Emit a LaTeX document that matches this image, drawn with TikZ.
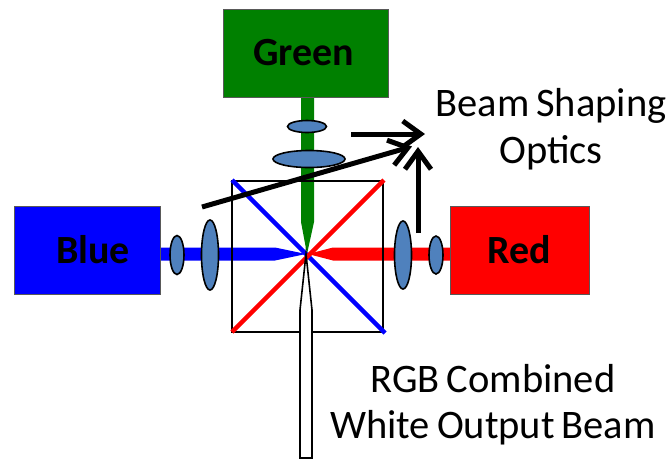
\documentclass[tikz,border=0pt]{standalone}
\usepackage{fontspec}
\setmainfont{Carlito}
\usetikzlibrary{arrows.meta}
\definecolor{lensblue}{HTML}{4F81BD}
\definecolor{gbox}{HTML}{008000}
\newcommand{\wsp}{\hspace{7pt}}
\tikzset{
  srcbox/.style={draw=black!65,line width=1pt,inner sep=0pt,font=\fontsize{40}{40}\selectfont\bfseries},
  lens/.style={draw=black,fill=lensblue,line width=1.6pt},
  diag/.style={line width=4.5pt},
  callout/.style={draw=black,line width=5pt,-{Straight Barb[length=18pt,width=26pt,line width=5pt]}},
  lbl/.style={font=\fontsize{40.5}{40.5}\selectfont,inner sep=0pt,anchor=base},
}
\begin{document}
\begin{tikzpicture}[x=1pt,y=-1pt]
\useasboundingbox (0,0) rectangle (672,459);
% beams
\fill[gbox] (301,97) -- (314,97) -- (314,222) -- (307,254) -- (301,222) -- cycle;
\fill[blue] (160,247.5) -- (275,247.5) -- (306,254) -- (275,260.5) -- (160,260.5) -- cycle;
\fill[red] (450,247.5) -- (333,247.5) -- (308,254) -- (333,260.5) -- (450,260.5) -- cycle;
% cube
\node[draw=black,line width=1.2pt,minimum width=151pt,minimum height=151pt,inner sep=0pt] (cube) at (307.5,256.5) {};
\draw[blue,diag] (232,180) -- (385,333);
\draw[red,diag] (384,180) -- (232,332);
% output
\draw[black,line width=1.6pt,fill=white] (300,458) -- (300,310) -- (306,254) -- (312,310) -- (312,458) -- cycle;
% sources
\node[srcbox,fill=gbox,minimum width=165pt,minimum height=88pt] (green) at (305.5,53) {\raisebox{-1pt}{\hspace*{-3pt}Green}};
\node[srcbox,fill=blue,minimum width=146pt,minimum height=88pt] (bluebox) at (87,250) {\raisebox{-1pt}{\hspace*{12pt}Blue}};
\node[srcbox,fill=red,minimum width=139pt,minimum height=88pt] (redbox) at (519.5,250) {Red};
% lenses
\draw[lens] (307,126.5) ellipse [x radius=19.5,y radius=6];
\draw[lens] (309,159) ellipse [x radius=36,y radius=8.5];
\draw[lens] (177,255) ellipse [x radius=7,y radius=19.5];
\draw[lens] (210,255) ellipse [x radius=8.5,y radius=35];
\draw[lens] (403,255) ellipse [x radius=8.5,y radius=34];
\draw[lens] (436,255) ellipse [x radius=7,y radius=19];
% labels
\node[lbl] (shape1) at (551,116) {Beam\wsp Shaping};
\node[lbl] (shape2) at (551,163.5) {Optics};
\node[lbl] (rgb1) at (493,392.5) {RGB\wsp Combined};
\node[lbl] (rgb2) at (493,438.5) {White\wsp Output\wsp Beam};
% callouts
\coordinate (a1s) at (351,134);
\coordinate (a1e) at (425,134);
\coordinate (a2s) at (202,207);
\coordinate (a2e) at (412,146.5);
\coordinate (a3s) at (418,233);
\coordinate (a3e) at (418,147);
\draw[callout] (a1s) -- (a1e);
\draw[callout] (a2s) -- (a2e);
\draw[callout] (a3s) -- (a3e);
\end{tikzpicture}
\end{document}
